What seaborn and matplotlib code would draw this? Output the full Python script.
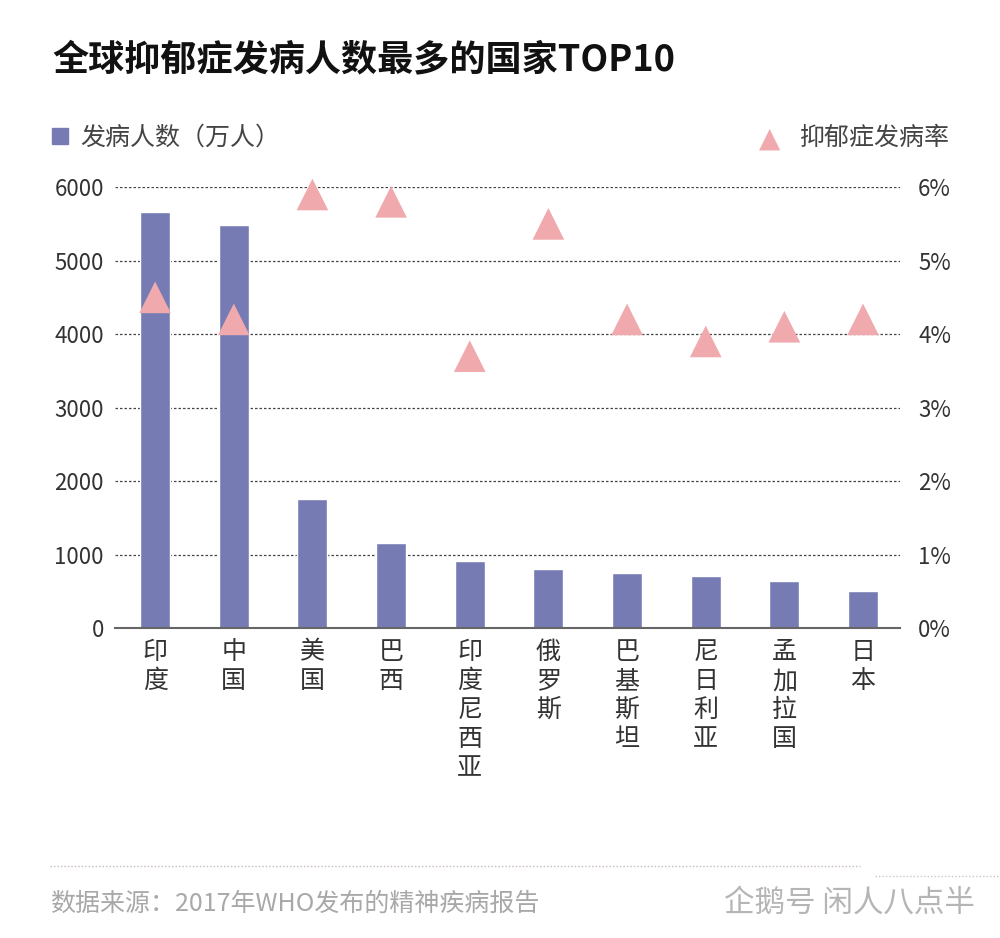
import matplotlib
matplotlib.use("Agg")
import matplotlib.pyplot as plt
import seaborn as sns
import pandas as pd

# data (WHO 2017 report)
countries = ["印度", "中国", "美国", "巴西", "印度尼西亚", "俄罗斯", "巴基斯坦", "尼日利亚", "孟加拉国", "日本"]
cases = [5668, 5482, 1749, 1155, 916, 797, 754, 714, 639, 506]   # 万人
rates = [4.5, 4.2, 5.9, 5.8, 3.7, 5.5, 4.2, 3.9, 4.1, 4.2]       # %

bar_color = "#767cb3"
tri_color = "#f0aaae"

sns.set_style("white")
plt.rcParams['font.family'] = ['Noto Sans CJK SC', 'DejaVu Sans']

df = pd.DataFrame({"country": countries, "cases": cases, "rate": rates})

fig = plt.figure(figsize=(10, 9.38), dpi=100)
ax = fig.add_axes([0.115, 0.3305, 0.785, 0.470])

sns.barplot(data=df, x="country", y="cases", color=bar_color, width=0.38,
            saturation=1, ax=ax, zorder=2)
ax.set_xlim(-0.51, 9.47)
ax.set_ylim(0, 6000)
ax.set_yticks(range(0, 6001, 1000))
ax.set_xlabel("")
ax.set_ylabel("")
ax.grid(axis="y", linestyle=(0, (2, 1.6)), color="#444444", linewidth=0.9, zorder=0)
ax.set_axisbelow(True)
for s in ["top", "right", "left"]:
    ax.spines[s].set_visible(False)
ax.spines["bottom"].set_color("#666666")
ax.spines["bottom"].set_linewidth(1.5)
ax.tick_params(axis="y", length=0, pad=8, labelsize=16, labelcolor="#333333")
ax.tick_params(axis="x", length=0, pad=8)
ax.set_xticks(range(len(countries)))
ax.set_xticklabels(["\n".join(c) for c in countries], fontsize=18, color="#333333",
                   linespacing=1.15, va="top")

ax2 = ax.twinx()
sns.scatterplot(data=df, x="country", y="rate", marker="^", s=520, color=tri_color,
                edgecolor="none", ax=ax2, zorder=3, clip_on=False)
ax2.set_ylim(0, 6)
ax2.set_yticks(range(0, 7))
ax2.set_yticklabels([f"{v}%" for v in range(0, 7)])
ax2.set_ylabel("")
ax2.tick_params(axis="y", length=0, pad=13, labelsize=16, labelcolor="#333333")
for s in ax2.spines.values():
    s.set_visible(False)
ax.set_xlim(-0.51, 9.47)

# title & legend
fig.text(0.052, 0.936, "全球抑郁症发病人数最多的国家TOP10", fontsize=26, fontweight="bold",
         color="#111111", va="center", ha="left")
fig.patches.append(plt.Rectangle((0.052, 0.847), 0.016, 0.017, color=bar_color,
                                 transform=fig.transFigure, figure=fig))
fig.text(0.08, 0.853, "发病人数（万人）", fontsize=18, color="#444444", va="center")
fig.text(0.770, 0.852, "▲", fontsize=20, color=tri_color, va="center", ha="center",
         family=["DejaVu Sans"])
fig.text(0.950, 0.853, "抑郁症发病率", fontsize=18, color="#444444", va="center", ha="right")

# footer
fig.add_artist(plt.Line2D([0.05, 0.86], [0.077, 0.077], transform=fig.transFigure,
                          color="#c8b8c0", linestyle=(0, (1, 1.5)), linewidth=1))
fig.add_artist(plt.Line2D([0.875, 1.0], [0.066, 0.066], transform=fig.transFigure,
                          color="#c8c8c8", linestyle=(0, (1, 1.5)), linewidth=1))
fig.text(0.05, 0.037, "数据来源：2017年WHO发布的精神疾病报告", fontsize=18, color="#a8a8a8",
         va="center", ha="left")
fig.text(0.975, 0.037, "企鹅号 闲人八点半", fontsize=22, color="#b5b5b5",
         va="center", ha="right")

fig.savefig("out.png", dpi=100, facecolor="white")
